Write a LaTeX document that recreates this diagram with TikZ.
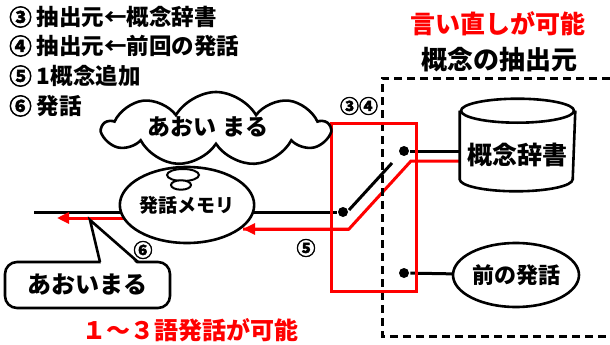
\documentclass[tikz,border=0pt]{standalone}
\usepackage{fontspec}
\setmainfont{Noto Sans CJK JP}[BoldFont={Noto Sans CJK JP Black}]
\newfontfamily\circfont{Noto Sans CJK JP Black}[FakeBold=2.5]
\newcommand{\cnum}[1]{{\circfont #1}}
\usetikzlibrary{shapes.geometric,shapes.symbols,arrows.meta,backgrounds}
\begin{document}
\begin{tikzpicture}[x=1pt,y=-1pt,line width=2.6pt,
  txt/.style={font=\bfseries\fontsize{#1}{#1}\selectfont, inner sep=0},
  dot/.style={circle, fill=black, draw=none, inner sep=0, minimum size=10},
  blackline/.style={draw=black, line width=3pt},
  redline/.style={draw=red, line width=3pt},
  redarrow/.style={redline, -{Triangle[length=12,width=11]}},
  boxdash/.style={dash pattern=on 8pt off 5pt, line width=3pt}]
\useasboundingbox (0,0) rectangle (610,345);

% legend
\node[txt=22.5, anchor=west] (l1) at (8,17) {\cnum{③} 抽出元←概念辞書};
\node[txt=22.5, anchor=west] (l2) at (8,46) {\cnum{④} 抽出元←前回の発話};
\node[txt=22.5, anchor=west] (l3) at (8,76) {\cnum{⑤} 1概念追加};
\node[txt=22.5, anchor=west] (l4) at (8,106) {\cnum{⑥} 発話};

% titles
\node[txt=25, text=red] (t1) at (498,24) {言い直しが可能};
\node[txt=26] (t2) at (499,60) {概念の抽出元};

% dashed region
\draw[boxdash] (610,78) -- (382,78) -- (382,336) -- (610,336);

% red switch box
\draw[redline] (331,123) rectangle (416,291);

% memory ellipse
\node[ellipse, draw, fill=white, minimum width=126, minimum height=76, inner sep=0, txt=19] (mem) at (187,205) {発話メモリ};

% thought cloud
\node[cloud, cloud puffs=9, cloud puff arc=120, cloud ignores aspect, draw, fill=white,
      minimum width=226, minimum height=74, inner sep=0] (cloud) at (216,129) {};
\node[txt=23] (cloudtxt) at (208,127) {あおい まる};
\node[ellipse, draw, fill=white, minimum width=32, minimum height=12, line width=2pt] (b1) at (183,175) {};
\node[ellipse, draw, fill=white, minimum width=20, minimum height=8, line width=2pt] (b2) at (181,185) {};

% cylinder
\node[minimum width=113, minimum height=66, inner sep=0] (cyl) at (517.5,145) {};
\draw[fill=white] (cyl.north west) -- (cyl.south west)
   arc[start angle=180, end angle=0, x radius=56.5, y radius=12] -- (cyl.north east);
\draw (cyl.north) ellipse [x radius=56.5, y radius=12];
\node[txt=25] (dict) at (517,155) {概念辞書};

% previous utterance
\node[ellipse, draw, fill=white, minimum width=126, minimum height=64, inner sep=0, txt=22] (prev) at (516,275) {前の発話};

% switch dots
\node[dot] (dA) at (343,212) {};
\node[dot] (dB) at (404,151) {};
\node[dot] (dC) at (404,273) {};
\coordinate (lvA) at (349,210);
\coordinate (lvB) at (392,163);
\draw[blackline] (lvA) -- (lvB);

% coordinates
\coordinate (lineL) at (34,212);
\coordinate (r1) at (411,161);
\coordinate (r2) at (349,229);
\coordinate (r5tip) at (243,229);
\coordinate (r6s) at (122,218);
\coordinate (r6tip) at (57,218);

\begin{scope}[on background layer]
  \draw[blackline] (lineL) -- (dA);
  \draw[blackline] (dB) -- (cyl.west |- dB);
  \draw[blackline] (dC) -- (prev.center);
  \draw[redline] (cyl.west |- r1) -- (r1) -- (r2) -- (r5tip);
  \draw[redarrow] (mem.center |- r6s) -- (r6tip);
\end{scope}
\draw[redarrow] (r2) -- (r5tip);

% speech bubble
\node[draw, fill=white, rounded corners=12, minimum width=165, minimum height=46, inner sep=0, txt=24] (bubble) at (87.5,285) {あおいまる};
\coordinate (tailL) at (100,262);
\coordinate (tailtip) at (90,220);
\coordinate (tailR) at (138,262);
\fill[white] (101,264) -- (tailtip) -- (137,264) -- cycle;
\draw[line join=miter] (tailL) -- (tailtip) -- (tailR);

% number labels
\node[txt=19] (c34) at (359,106) {\cnum{③④}};
\node[txt=19] (c5) at (306,248) {\cnum{⑤}};
\node[txt=19] (c6) at (143,250) {\cnum{⑥}};
\node[txt=24, text=red] (t3) at (190,330) {１～３語発話が可能};
\end{tikzpicture}
\end{document}
